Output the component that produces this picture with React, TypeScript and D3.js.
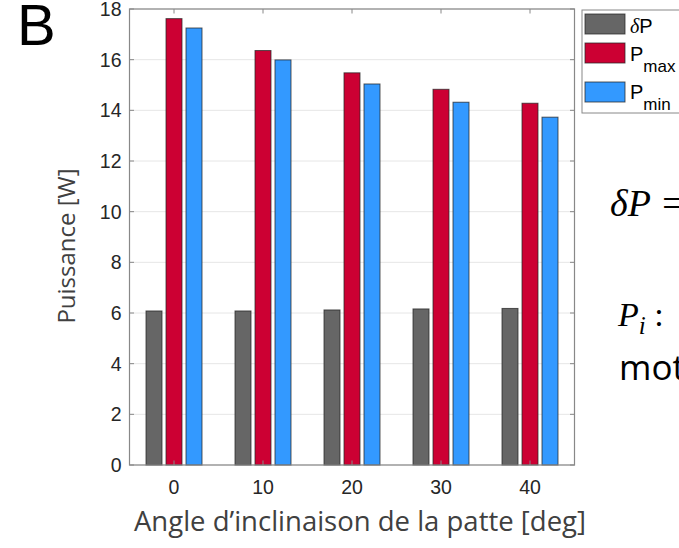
import React from "react";
import * as d3 from "d3";

const angles = ["0", "10", "20", "30", "40"];
const deltaP = [6.08, 6.08, 6.12, 6.16, 6.18];
const pMax = [17.62, 16.36, 15.48, 14.83, 14.28];
const pMin = [17.25, 15.99, 15.04, 14.32, 13.73];
const yTicks = [0, 2, 4, 6, 8, 10, 12, 14, 16, 18];

const seriesNames = ["δP", "Pmax", "Pmin"];
const seriesColors = ["#666666", "#cc0033", "#3399ff"];

const W = 679;
const H = 548;
const left = 129.5;
const right = 574.5;
const top = 9;
const bottom = 465;

const App: React.FC = () => {
  const series = [deltaP, pMax, pMin];

  const x = d3.scaleBand<string>().domain(angles).range([left, right]).padding(0);
  const y = d3.scaleLinear().domain([0, 18]).range([bottom, top]);
  const sub = d3
    .scaleBand<string>()
    .domain(seriesNames)
    .range([-30, 30])
    .paddingInner(0.2)
    .paddingOuter(0.1);

  const tickFont = "'Liberation Sans', Arial, sans-serif";
  const labelFont = "'Open Sans', 'Noto Sans', sans-serif";
  const mathFont = "'Liberation Serif', 'DejaVu Serif', serif";

  // legend rows: swatch top, P baseline
  const legendRows = [
    { top: 14, base: 33 },
    { top: 43, base: 61 },
    { top: 82, base: 99 },
  ];

  return (
    <svg
      width={W}
      height={H}
      style={{ position: "absolute", left: 0, top: 0, background: "#fff" }}
    >
      {/* panel letter */}
      <text x={17} y={45} fontFamily={tickFont} fontSize={58} fill="#000">
        B
      </text>

      {/* gridlines */}
      {yTicks.map(t => (
        <line key={"g" + t} x1={left} x2={right} y1={y(t)} y2={y(t)} stroke="#e6e6e6" strokeWidth={1} />
      ))}

      {/* bars */}
      {angles.map((a, i) => (
        <g key={a} transform={`translate(${x(a)! + x.bandwidth() / 2},0)`}>
          {series.map((s, j) => (
            <rect
              key={j}
              x={sub(seriesNames[j])!}
              width={sub.bandwidth()}
              y={y(s[i])}
              height={y(0) - y(s[i])}
              fill={seriesColors[j]}
              stroke="#262626"
              strokeOpacity={0.75}
              strokeWidth={1}
            />
          ))}
        </g>
      ))}

      {/* box */}
      <rect x={left} y={top} width={right - left} height={bottom - top} fill="none" stroke="#888" strokeWidth={1.2} />

      {/* y ticks */}
      {yTicks.map(t => (
        <g key={"y" + t}>
          <line x1={left} x2={left + 4.5} y1={y(t)} y2={y(t)} stroke="#888" />
          <line x1={right} x2={right - 4.5} y1={y(t)} y2={y(t)} stroke="#888" />
          <text
            x={left - 8}
            y={y(t)}
            dy="0.36em"
            textAnchor="end"
            fontFamily={tickFont}
            fontSize={19.5}
            fill="#262626"
          >
            {t}
          </text>
        </g>
      ))}

      {/* x ticks */}
      {angles.map(a => {
        const cx = x(a)! + x.bandwidth() / 2;
        return (
          <g key={"x" + a}>
            <line x1={cx} x2={cx} y1={bottom} y2={bottom - 4.5} stroke="#888" />
            <line x1={cx} x2={cx} y1={top} y2={top + 4.5} stroke="#888" />
            <text x={cx} y={bottom + 29} textAnchor="middle" fontFamily={tickFont} fontSize={19.5} fill="#262626">
              {a}
            </text>
          </g>
        );
      })}

      {/* axis titles */}
      <text
        transform={`translate(75,${(top + bottom) / 2 + 9}) rotate(-90)`}
        textAnchor="middle"
        fontFamily={labelFont}
        fontSize={24}
        fill="#404040"
      >
        Puissance [W]
      </text>
      <text x={360} y={531} textAnchor="middle" fontFamily={labelFont} fontSize={27.5} fill="#404040">
        Angle d’inclinaison de la patte [deg]
      </text>

      {/* legend */}
      <rect x={582} y={10} width={110} height={103} fill="#fff" stroke="#888" strokeWidth={1} />
      {seriesNames.map((n, j) => {
        const r = legendRows[j];
        return (
          <g key={n}>
            <rect
              x={585}
              y={r.top}
              width={40}
              height={20}
              fill={seriesColors[j]}
              stroke="#262626"
              strokeOpacity={0.75}
            />
            {j === 0 ? (
              <text x={630} y={r.base} fontFamily={tickFont} fontSize={20} fill="#000">
                <tspan fontFamily={mathFont} fontStyle="italic">δ</tspan>P
              </text>
            ) : (
              <text x={630} y={r.base} fontFamily={tickFont} fontSize={20} fill="#000">
                P
                <tspan dy={11} fontSize={17}>
                  {j === 1 ? "max" : "min"}
                </tspan>
              </text>
            )}
          </g>
        );
      })}

      {/* text from the slide, cut by the right edge */}
      <text x={610} y={216} fontFamily={mathFont} fontStyle="italic" fontSize={38} fill="#000">
        δP =
      </text>
      <text x={618} y={326} fontFamily={mathFont} fontStyle="italic" fontSize={34} fill="#000">
        P<tspan dy={8} fontSize={25}>i</tspan>
        <tspan dy={-8} fontStyle="normal"> :</tspan>
      </text>
      <text x={619} y={380} fontFamily={labelFont} fontSize={35} fill="#000">
        moteur
      </text>
    </svg>
  );
};

export default App;
